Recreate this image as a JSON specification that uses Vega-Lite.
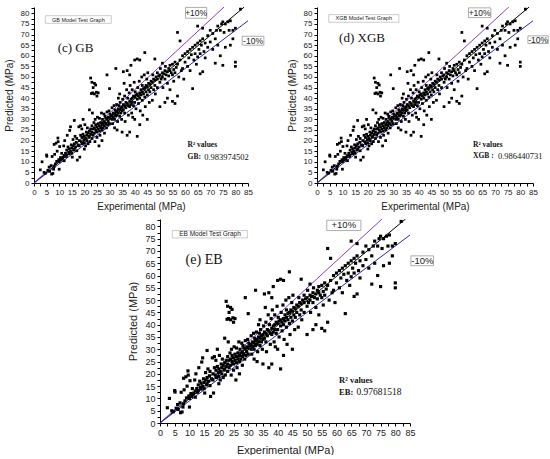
{
  "$schema": "https://vega.github.io/schema/vega-lite/v6.json",
  "padding": {"left": 4, "top": 4, "right": 0, "bottom": 0},
  "background": "white",
  "config": {
    "view": {"stroke": null},
    "axis": {"labelFont": "Liberation Sans", "labelFontSize": 8, "labelColor": "#222", "titleFont": "Liberation Sans", "titleFontSize": 10, "titleFontWeight": "normal", "titleColor": "#222", "domainColor": "#000", "tickColor": "#000", "tickSize": 3, "grid": false, "labelPadding": 2, "labelFlush": false, "labelOverlap": false, "labelExpr": "datum.value % 5 == 0 ? datum.label : ''"}
  },
  "datasets": {
    "lines": [
      {"line": "1:1", "e": 0, "p": 0}, {"line": "1:1", "e": 83.5, "p": 83},
      {"line": "+10%", "e": 0, "p": 0}, {"line": "+10%", "e": 75.5, "p": 83},
      {"line": "-10%", "e": 0, "p": 0}, {"line": "-10%", "e": 85, "p": 76.5}
    ],
    "pts": [
      {"e":2.5,"p":6.2},{"e":3.2,"p":10},{"e":4,"p":5},{"e":4.5,"p":4.6},{"e":5,"p":13.2},{"e":5.1,"p":12.6},{"e":5.5,"p":6},{"e":6,"p":7.5},{"e":6.2,"p":5.5},{"e":6.8,"p":8.2},{"e":7,"p":4.2},{"e":7.2,"p":12.5},{"e":7.5,"p":4.5},{"e":7.8,"p":6.5},{"e":8,"p":7.8},{"e":8,"p":18.2},{"e":8.2,"p":13.5},{"e":8.5,"p":9},{"e":8.8,"p":18.8},{"e":9,"p":10.2},{"e":9.2,"p":15},{"e":9.5,"p":21.2},{"e":9.6,"p":19.5},{"e":9.8,"p":11},{"e":10,"p":6.5},{"e":10,"p":10},{"e":10.2,"p":17.2},{"e":10.5,"p":12},{"e":10.8,"p":10.8},{"e":11,"p":14},{"e":11.2,"p":11.5},
      {"e":11.5,"p":12.2},{"e":11.8,"p":17.5},{"e":12,"p":13},{"e":12,"p":10.5},{"e":12.2,"p":20},{"e":12.5,"p":14},{"e":12.8,"p":12.5},{"e":13,"p":15.5},{"e":13,"p":13.2},{"e":13.2,"p":22.5},{"e":13.5,"p":17},{"e":13.8,"p":14.5},{"e":14,"p":13.8},{"e":14,"p":16.2},{"e":14.2,"p":24.8},{"e":14.5,"p":15},{"e":14.5,"p":26.5},{"e":14.8,"p":18},{"e":15,"p":14},{"e":15,"p":16.5},{"e":15.2,"p":12.2},{"e":15.5,"p":17.5},{"e":15.5,"p":20.5},{"e":15.8,"p":15.5},{"e":16,"p":29.5},{"e":16,"p":18.5},{"e":16,"p":16},{"e":16.3,"p":22},{"e":16.5,"p":17},{"e":16.8,"p":19.2},{"e":17,"p":15.2},{"e":17,"p":21},{"e":17.2,"p":10.8},{"e":17.5,"p":18},{"e":17.8,"p":26.5},{"e":18,"p":20},{"e":18,"p":17.5},{"e":18.2,"p":12.2},{"e":18.5,"p":27},{"e":18.5,"p":22.5},{"e":18.8,"p":19.5},{"e":19,"p":25.5},{"e":19,"p":21.5},{"e":19.2,"p":18.5},{"e":19.5,"p":23},{"e":19.5,"p":30},{"e":19.8,"p":20.5},{"e":20,"p":16},{"e":20,"p":19},{"e":20,"p":22},{"e":20.2,"p":27.5},{"e":20.5,"p":21},{"e":20.5,"p":17.5},{"e":20.8,"p":24},
      {"e":21,"p":22.5},{"e":21,"p":20},{"e":21.2,"p":26},{"e":21.5,"p":23.5},{"e":21.5,"p":18.5},{"e":21.8,"p":21.5},{"e":22,"p":24.5},{"e":22,"p":22},{"e":22,"p":34.5},{"e":22.2,"p":19.5},{"e":22.5,"p":25.5},{"e":22.5,"p":23},{"e":22.5,"p":49.5},{"e":22.8,"p":42.2},{"e":23,"p":21},{"e":23,"p":24},{"e":23,"p":27},{"e":23,"p":47.5},{"e":23.2,"p":33},{"e":23.3,"p":42.5},{"e":23.5,"p":25.5},{"e":23.5,"p":22.5},{"e":23.5,"p":45},{"e":23.8,"p":28.5},{"e":24,"p":26},{"e":24,"p":23.5},{"e":24,"p":47},{"e":24,"p":42},{"e":24.2,"p":19.5},{"e":24.3,"p":30},{"e":24.5,"p":25},{"e":24.5,"p":27.5},{"e":24.5,"p":46.2},{"e":24.8,"p":42.8},{"e":25,"p":24},{"e":25,"p":26.5},{"e":25,"p":21.5},{"e":25,"p":41},{"e":25.2,"p":31},{"e":25.5,"p":28},{"e":25.5,"p":25.5},{"e":25.5,"p":42.5},{"e":25.8,"p":17.5},{"e":26,"p":27},{"e":26,"p":24.5},{"e":26,"p":30.5},{"e":26.2,"p":22.5},{"e":26.5,"p":28.5},{"e":26.5,"p":26},{"e":26.8,"p":33},{"e":27,"p":27.5},{"e":27,"p":25},{"e":27,"p":20},{"e":27.2,"p":30},{"e":27.5,"p":28.5},{"e":27.5,"p":26},{"e":27.8,"p":32.5},{"e":28,"p":29},{"e":28,"p":27},{"e":28,"p":23.5},{"e":28.2,"p":31.5},{"e":28.5,"p":28},{"e":28.5,"p":30.5},{"e":28.8,"p":26},{"e":29,"p":30},{"e":29,"p":33.5},{"e":29,"p":51},{"e":29.2,"p":27.5},{"e":29.5,"p":31},{"e":29.5,"p":29},{"e":29.8,"p":34},{"e":30,"p":30.5},{"e":30,"p":28},{"e":30,"p":44.5},{"e":30.2,"p":32.5},{"e":30.5,"p":31.5},
      {"e":31,"p":32},{"e":31,"p":30},{"e":31,"p":35.5},{"e":31.2,"p":28},{"e":31.5,"p":33},{"e":31.5,"p":31},{"e":31.8,"p":36.5},{"e":32,"p":32.5},{"e":32,"p":30},{"e":32,"p":26},{"e":32.2,"p":34.5},{"e":32.5,"p":33.5},{"e":32.5,"p":31.5},{"e":32.5,"p":54},{"e":32.8,"p":37},{"e":33,"p":34},{"e":33,"p":32},{"e":33,"p":25},{"e":33.2,"p":29},{"e":33.5,"p":35},{"e":33.5,"p":33},{"e":33.5,"p":40},{"e":33.8,"p":36.5},{"e":34,"p":34.5},{"e":34,"p":31.5},{"e":34,"p":42},{"e":34.2,"p":38},{"e":34.5,"p":35.5},{"e":34.5,"p":33},{"e":34.8,"p":30},{"e":35,"p":36},{"e":35,"p":34},{"e":35,"p":24},{"e":35.2,"p":39.5},{"e":35.5,"p":37},{"e":35.5,"p":34.5},{"e":35.5,"p":52.5},{"e":35.8,"p":47},{"e":36,"p":36.5},{"e":36,"p":33},{"e":36,"p":41},{"e":36.2,"p":29},{"e":36.5,"p":38},{"e":36.5,"p":35.5},{"e":36.8,"p":44},{"e":37,"p":37.5},{"e":37,"p":53},{"e":37,"p":22.5},{"e":37.2,"p":40},{"e":37.5,"p":36.5},{"e":37.5,"p":32},{"e":37.8,"p":42.5},{"e":38,"p":38.5},{"e":38,"p":36},{"e":38,"p":24},{"e":38,"p":51},{"e":38.2,"p":46},{"e":38.5,"p":39.5},{"e":38.5,"p":37},{"e":38.5,"p":55.5},{"e":38.8,"p":33},{"e":39,"p":40},{"e":39,"p":38},{"e":39,"p":44},{"e":39.2,"p":31},{"e":39.5,"p":41},{"e":39.5,"p":36.5},{"e":39.8,"p":47.5},{"e":40,"p":40.5},{"e":40,"p":38},{"e":40,"p":58},{"e":40,"p":30},{"e":40.2,"p":43},{"e":40.5,"p":41.5},{"e":40.5,"p":35},
      {"e":41,"p":42},{"e":41,"p":39.5},{"e":41,"p":22},{"e":41,"p":58.5},{"e":41.2,"p":45},{"e":41.5,"p":41},{"e":41.5,"p":37.5},{"e":41.8,"p":48},{"e":42,"p":42.5},{"e":42,"p":40},{"e":42,"p":27.5},{"e":42,"p":58},{"e":42.2,"p":34},{"e":42.5,"p":44},{"e":42.5,"p":41.5},{"e":42.8,"p":50},{"e":43,"p":43},{"e":43,"p":39},{"e":43,"p":46},{"e":43.2,"p":32},{"e":43.5,"p":44.5},{"e":43.5,"p":42},{"e":43.8,"p":51},{"e":44,"p":45},{"e":44,"p":40.5},{"e":44,"p":61.5},{"e":44.2,"p":36},{"e":44.5,"p":46},{"e":44.5,"p":43},{"e":44.8,"p":49},{"e":45,"p":45.5},{"e":45,"p":41.5},{"e":45,"p":30},{"e":45.2,"p":52},{"e":45.5,"p":47},{"e":45.5,"p":44},{"e":45.8,"p":38},{"e":46,"p":46.5},{"e":46,"p":43},{"e":46.5,"p":48},{"e":46.5,"p":45},{"e":47,"p":47.5},{"e":47,"p":39},{"e":47.2,"p":51},{"e":47.5,"p":49},{"e":47.5,"p":44},{"e":48,"p":48.5},{"e":48,"p":46},{"e":48,"p":58.5},{"e":48.2,"p":42},{"e":48.5,"p":50},{"e":49,"p":49},{"e":49,"p":52},{"e":49,"p":45},{"e":49.5,"p":50.5},{"e":50,"p":51},{"e":50,"p":47.5},{"e":50,"p":36},{"e":50.2,"p":54},{"e":50.5,"p":49},
      {"e":51,"p":52},{"e":51,"p":50},{"e":51,"p":56.5},{"e":51.2,"p":45},{"e":51.5,"p":51.5},{"e":52,"p":53},{"e":52,"p":49},{"e":52,"p":38},{"e":52.2,"p":55},{"e":52.5,"p":51},{"e":53,"p":52.5},{"e":53,"p":40},{"e":53,"p":47},{"e":53.5,"p":54},{"e":53.5,"p":50.5},{"e":54,"p":53},{"e":54,"p":55.5},{"e":54,"p":44},{"e":54.5,"p":52},{"e":55,"p":56},{"e":55,"p":51},{"e":55,"p":38.5},{"e":55.5,"p":53.5},{"e":55.5,"p":48},{"e":56,"p":57},{"e":56,"p":37.5},{"e":56,"p":52},{"e":56.5,"p":54.5},{"e":57,"p":71},{"e":57,"p":56},{"e":57,"p":41},{"e":57.5,"p":50},{"e":58,"p":67},{"e":58,"p":58},{"e":58.5,"p":53},{"e":59,"p":60},{"e":59,"p":54},{"e":59.5,"p":49},{"e":60,"p":61},{"e":60,"p":57},
      {"e":61,"p":62},{"e":61,"p":55},{"e":61.5,"p":59},{"e":62,"p":63},{"e":62,"p":53},{"e":62.5,"p":60.5},{"e":63,"p":44.5},{"e":63,"p":64},{"e":63.5,"p":58},{"e":64,"p":65},{"e":64,"p":61},{"e":64.5,"p":56},{"e":65,"p":74},{"e":65,"p":66},{"e":65,"p":59.5},{"e":65.5,"p":63},{"e":66,"p":67},{"e":66,"p":51.5},{"e":66,"p":61},{"e":66.5,"p":65},{"e":67,"p":73},{"e":67,"p":52.5},{"e":67,"p":68},{"e":67.5,"p":62},{"e":68,"p":66},{"e":68,"p":59},{"e":69,"p":69.5},{"e":69,"p":64},{"e":70,"p":72},{"e":70,"p":66.5},
      {"e":71,"p":70.5},{"e":71,"p":63},{"e":72,"p":56.5},{"e":72,"p":68},{"e":72.5,"p":72},{"e":73,"p":74},{"e":73,"p":65},{"e":74,"p":60},{"e":74,"p":72},{"e":74.5,"p":75},{"e":75,"p":55.5},{"e":75,"p":76},{"e":75.5,"p":71},{"e":76,"p":64},{"e":76,"p":75},{"e":77,"p":76},{"e":77.5,"p":72},{"e":78,"p":65},{"e":78,"p":76.5},{"e":79,"p":68},{"e":79,"p":72},{"e":80,"p":55},{"e":80,"p":57},{"e":80,"p":73},{"e":82,"p":82}
    ]
  },
  "spacing": 5,
  "vconcat": [
    {
      "spacing": 22,
      "hconcat": [
        {
          "width": 214,
          "height": 176,
          "encoding": {
            "x": {"field": "e", "type": "quantitative", "scale": {"domain": [0, 85], "nice": false}, "axis": {"title": "Experimental (MPa)", "values": [0,2.5,5,7.5,10,12.5,15,17.5,20,22.5,25,27.5,30,32.5,35,37.5,40,42.5,45,47.5,50,52.5,55,57.5,60,62.5,65,67.5,70,72.5,75,77.5,80,82.5,85], "titlePadding": 5}},
            "y": {"field": "p", "type": "quantitative", "scale": {"domain": [0, 83], "nice": false}, "axis": {"title": "Predicted (MPa)", "values": [0,2.5,5,7.5,10,12.5,15,17.5,20,22.5,25,27.5,30,32.5,35,37.5,40,42.5,45,47.5,50,52.5,55,57.5,60,62.5,65,67.5,70,72.5,75,77.5,80,82.5], "titlePadding": 6}}
          },
          "layer": [
            {"data": {"name": "lines"}, "mark": {"type": "line", "strokeWidth": 1, "clip": true}, "encoding": {"color": {"field": "line", "type": "nominal", "scale": {"domain": ["1:1", "+10%", "-10%"], "range": ["#000000", "#8a3cc8", "#2a2ab0"]}, "legend": null}}},
            {"data": {"name": "pts"}, "mark": {"type": "point", "shape": "square", "filled": true, "size": 7.5, "color": "#000", "opacity": 1}},
            {"data": {"values": [{"e": 60.2, "e2": 68.6, "p": 77.7, "p2": 82.8}, {"e": 82.7, "e2": 91.3, "p": 65, "p2": 69.2}]}, "mark": {"type": "rect", "fill": "#fff", "stroke": "#999", "strokeWidth": 0.8}, "encoding": {"x2": {"field": "e2"}, "y2": {"field": "p2"}}},
            {"data": {"values": [{"e": 4.5, "e2": 30.7, "p": 75.3, "p2": 78.9}]}, "mark": {"type": "rect", "fill": "#fff", "stroke": "#aaa", "strokeWidth": 0.6}, "encoding": {"x2": {"field": "e2"}, "y2": {"field": "p2"}}},
            {"data": {"values": [{"e": 64.4, "p": 80.2, "t": "+10%"}, {"e": 87, "p": 67.1, "t": "-10%"}]}, "mark": {"type": "text", "font": "Liberation Sans", "fontSize": 8.5, "color": "#222"}, "encoding": {"text": {"field": "t"}}},
            {"data": {"values": [{"e": 17.6, "p": 77.1, "t": "GB Model Test Graph"}]}, "mark": {"type": "text", "font": "Liberation Sans", "fontSize": 5.5, "color": "#222"}, "encoding": {"text": {"field": "t"}}},
            {"data": {"values": [{"e": 9.4, "p": 63.6, "t": "(c) GB"}]}, "mark": {"type": "text", "align": "left", "font": "Liberation Serif", "fontSize": 13, "color": "#111"}, "encoding": {"text": {"field": "t"}}},
            {"data": {"values": [{"e": 61, "p": 17.8, "t": "R² values"}, {"e": 61, "p": 12.1, "t": "GB:"}]}, "mark": {"type": "text", "align": "left", "font": "Liberation Serif", "fontSize": 7.5, "fontWeight": "bold", "color": "#111"}, "encoding": {"text": {"field": "t"}}},
            {"data": {"values": [{"e": 67.6, "p": 12.1, "t": "0.983974502"}]}, "mark": {"type": "text", "align": "left", "font": "Liberation Serif", "fontSize": 8.5, "color": "#111"}, "encoding": {"text": {"field": "t"}}}
          ]
        },
        {
          "width": 216,
          "height": 176,
          "encoding": {
            "x": {"field": "e", "type": "quantitative", "scale": {"domain": [0, 85], "nice": false}, "axis": {"title": "Experimental (MPa)", "values": [0,2.5,5,7.5,10,12.5,15,17.5,20,22.5,25,27.5,30,32.5,35,37.5,40,42.5,45,47.5,50,52.5,55,57.5,60,62.5,65,67.5,70,72.5,75,77.5,80,82.5,85], "titlePadding": 5}},
            "y": {"field": "p", "type": "quantitative", "scale": {"domain": [0, 83], "nice": false}, "axis": {"title": "Predicted (MPa)", "values": [0,2.5,5,7.5,10,12.5,15,17.5,20,22.5,25,27.5,30,32.5,35,37.5,40,42.5,45,47.5,50,52.5,55,57.5,60,62.5,65,67.5,70,72.5,75,77.5,80,82.5], "titlePadding": 6}}
          },
          "layer": [
            {"data": {"name": "lines"}, "mark": {"type": "line", "strokeWidth": 1, "clip": true}, "encoding": {"color": {"field": "line", "type": "nominal", "scale": {"domain": ["1:1", "+10%", "-10%"], "range": ["#000000", "#8a3cc8", "#2a2ab0"]}, "legend": null}}},
            {"data": {"name": "pts"}, "mark": {"type": "point", "shape": "square", "filled": true, "size": 7.5, "color": "#000", "opacity": 1}},
            {"data": {"values": [{"e": 59.6, "e2": 68.4, "p": 78, "p2": 82.6}, {"e": 83, "e2": 91, "p": 65.8, "p2": 69.4}]}, "mark": {"type": "rect", "fill": "#fff", "stroke": "#999", "strokeWidth": 0.8}, "encoding": {"x2": {"field": "e2"}, "y2": {"field": "p2"}}},
            {"data": {"values": [{"e": 4.6, "e2": 32.2, "p": 75.8, "p2": 79.4}]}, "mark": {"type": "rect", "fill": "#fff", "stroke": "#aaa", "strokeWidth": 0.6}, "encoding": {"x2": {"field": "e2"}, "y2": {"field": "p2"}}},
            {"data": {"values": [{"e": 64, "p": 80.3, "t": "+10%"}, {"e": 87, "p": 67.6, "t": "-10%"}]}, "mark": {"type": "text", "font": "Liberation Sans", "fontSize": 8.5, "color": "#222"}, "encoding": {"text": {"field": "t"}}},
            {"data": {"values": [{"e": 18.4, "p": 77.6, "t": "XGB Model Test Graph"}]}, "mark": {"type": "text", "font": "Liberation Sans", "fontSize": 5.5, "color": "#222"}, "encoding": {"text": {"field": "t"}}},
            {"data": {"values": [{"e": 8.7, "p": 68.5, "t": "(d) XGB"}]}, "mark": {"type": "text", "align": "left", "font": "Liberation Serif", "fontSize": 13, "color": "#111"}, "encoding": {"text": {"field": "t"}}},
            {"data": {"values": [{"e": 61.4, "p": 17.9, "t": "R² values"}, {"e": 61.4, "p": 12.8, "t": "XGB :"}]}, "mark": {"type": "text", "align": "left", "font": "Liberation Serif", "fontSize": 7.5, "fontWeight": "bold", "color": "#111"}, "encoding": {"text": {"field": "t"}}},
            {"data": {"values": [{"e": 71.2, "p": 12.8, "t": "0.986440731"}]}, "mark": {"type": "text", "align": "left", "font": "Liberation Serif", "fontSize": 8.5, "color": "#111"}, "encoding": {"text": {"field": "t"}}}
          ]
        }
      ]
    },
    {
      "spacing": 0,
      "hconcat": [
        {"width": 93, "height": 10, "data": {"values": [{}]}, "mark": {"type": "point", "opacity": 0}},
        {
          "width": 250,
          "height": 204,
          "encoding": {
            "x": {"field": "e", "type": "quantitative", "scale": {"domain": [0, 85], "nice": false}, "axis": {"title": "Experimental (MPa)", "values": [0,2.5,5,7.5,10,12.5,15,17.5,20,22.5,25,27.5,30,32.5,35,37.5,40,42.5,45,47.5,50,52.5,55,57.5,60,62.5,65,67.5,70,72.5,75,77.5,80,82.5,85], "titlePadding": 7, "labelFontSize": 9, "titleFontSize": 11}},
            "y": {"field": "p", "type": "quantitative", "scale": {"domain": [0, 83], "nice": false}, "axis": {"title": "Predicted (MPa)", "values": [0,2.5,5,7.5,10,12.5,15,17.5,20,22.5,25,27.5,30,32.5,35,37.5,40,42.5,45,47.5,50,52.5,55,57.5,60,62.5,65,67.5,70,72.5,75,77.5,80,82.5], "titlePadding": 6, "labelFontSize": 9, "titleFontSize": 11}}
          },
          "layer": [
            {"data": {"name": "lines"}, "mark": {"type": "line", "strokeWidth": 1, "clip": true}, "encoding": {"color": {"field": "line", "type": "nominal", "scale": {"domain": ["1:1", "+10%", "-10%"], "range": ["#000000", "#8a3cc8", "#2a2ab0"]}, "legend": null}}},
            {"data": {"name": "pts"}, "mark": {"type": "point", "shape": "square", "filled": true, "size": 10, "color": "#000", "opacity": 1}},
            {"data": {"values": [{"e": 56.7, "e2": 68.3, "p": 78.3, "p2": 82.5}, {"e": 85.3, "e2": 93, "p": 64, "p2": 68}]}, "mark": {"type": "rect", "fill": "#fff", "stroke": "#999", "strokeWidth": 0.8}, "encoding": {"x2": {"field": "e2"}, "y2": {"field": "p2"}}},
            {"data": {"values": [{"e": 4.2, "e2": 29.7, "p": 75.3, "p2": 78.3}]}, "mark": {"type": "rect", "fill": "#fff", "stroke": "#aaa", "strokeWidth": 0.6}, "encoding": {"x2": {"field": "e2"}, "y2": {"field": "p2"}}},
            {"data": {"values": [{"e": 62.5, "p": 80.4, "t": "+10%"}, {"e": 89.2, "p": 66, "t": "-10%"}]}, "mark": {"type": "text", "font": "Liberation Sans", "fontSize": 9.5, "color": "#222"}, "encoding": {"text": {"field": "t"}}},
            {"data": {"values": [{"e": 17, "p": 76.8, "t": "EB Model Test Graph"}]}, "mark": {"type": "text", "font": "Liberation Sans", "fontSize": 6.5, "color": "#222"}, "encoding": {"text": {"field": "t"}}},
            {"data": {"values": [{"e": 8.7, "p": 66.4, "t": "(e) EB"}]}, "mark": {"type": "text", "align": "left", "font": "Liberation Serif", "fontSize": 14, "color": "#111"}, "encoding": {"text": {"field": "t"}}},
            {"data": {"values": [{"e": 60.9, "p": 17.6, "t": "R² values"}, {"e": 60.9, "p": 12.5, "t": "EB:"}]}, "mark": {"type": "text", "align": "left", "font": "Liberation Serif", "fontSize": 8.5, "fontWeight": "bold", "color": "#111"}, "encoding": {"text": {"field": "t"}}},
            {"data": {"values": [{"e": 66.8, "p": 12.5, "t": "0.97681518"}]}, "mark": {"type": "text", "align": "left", "font": "Liberation Serif", "fontSize": 9.5, "color": "#111"}, "encoding": {"text": {"field": "t"}}}
          ]
        }
      ]
    }
  ]
}
